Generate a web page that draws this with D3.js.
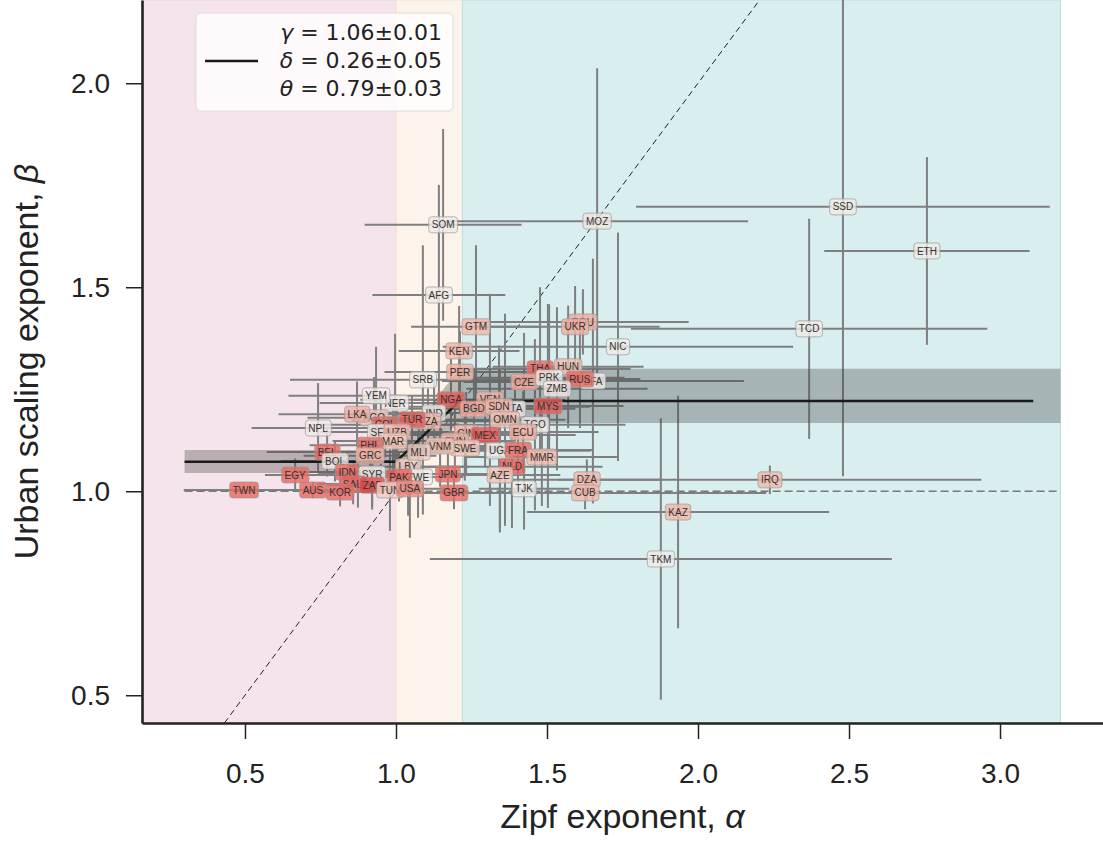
<!DOCTYPE html>
<html>
<head>
<meta charset="utf-8">
<script src="https://cdn.jsdelivr.net/npm/d3@7"></script>
<style>
	body { margin: 0; background: #fff; }
	svg { display: block; font-family: 'Liberation Sans', Arial, sans-serif; }
</style>
</head>
<body>
<div id="main-content"></div>
<script>
'use strict'

// countries, Zipf exponent (alpha), urban scaling exponent (beta), their errors and a 0..1 colour value
const codes = ['BFA', 'ITA', 'GIN', 'CHN', 'PRY', 'SSD', 'ETH', 'TCD', 'MOZ', 'SOM', 'AFG', 'GTM', 'ROU', 'UKR', 'NIC',
	'KEN', 'PER', 'SRB', 'HUN', 'THA', 'CZE', 'PRK', 'RUS', 'ZMB', 'NGA', 'VEN', 'BGD', 'SDN', 'MYS', 'OMN',
	'TGO', 'ECU', 'MEX', 'SWE', 'VNM', 'UGA', 'FRA', 'MMR', 'NLD', 'AZE', 'TJK', 'DZA', 'CUB', 'IRQ', 'KAZ',
	'TKM', 'JPN', 'GBR', 'LBY', 'ZWE', 'PAK', 'MLI', 'IND', 'TZA', 'TUR', 'NER', 'YEM', 'AGO', 'LKA', 'COL',
	'SEN', 'UZB', 'MAR', 'PHL', 'GRC', 'NPL', 'BEL', 'BOL', 'IDN', 'SYR', 'SAU', 'ZAF', 'TUN', 'USA', 'KOR',
	'AUS', 'EGY', 'TWN']
const alpha = [1.652, 1.394, 1.232, 1.195, 0.874, 2.480, 2.758, 2.368, 1.666, 1.156, 1.142, 1.265, 1.619, 1.593, 1.735,
	1.209, 1.212, 1.089, 1.570, 1.477, 1.424, 1.507, 1.609, 1.533, 1.182, 1.311, 1.258, 1.341, 1.503, 1.361,
	1.460, 1.421, 1.295, 1.228, 1.146, 1.344, 1.404, 1.483, 1.384, 1.344, 1.424, 1.632, 1.626, 2.238, 1.934,
	1.877, 1.172, 1.192, 1.040, 1.073, 1.010, 1.076, 1.126, 1.106, 1.053, 0.997, 0.934, 0.927, 0.871, 0.964,
	0.950, 1.003, 0.990, 0.914, 0.914, 0.742, 0.772, 0.798, 0.838, 0.921, 0.858, 0.921, 0.980, 1.046, 0.815,
	0.725, 0.666, 0.497]
const beta = [1.270, 1.202, 1.143, 1.123, 1.040, 1.697, 1.589, 1.398, 1.662, 1.653, 1.481, 1.403, 1.415, 1.403, 1.354,
	1.344, 1.292, 1.273, 1.305, 1.300, 1.268, 1.278, 1.275, 1.251, 1.224, 1.224, 1.202, 1.207, 1.209, 1.175,
	1.163, 1.145, 1.138, 1.106, 1.111, 1.099, 1.101, 1.084, 1.060, 1.040, 1.006, 1.028, 0.996, 1.028, 0.949,
	0.834, 1.042, 0.996, 1.060, 1.035, 1.035, 1.096, 1.192, 1.172, 1.175, 1.216, 1.234, 1.180, 1.189, 1.163,
	1.145, 1.145, 1.123, 1.113, 1.087, 1.155, 1.096, 1.074, 1.047, 1.042, 1.018, 1.015, 1.003, 1.006, 0.998,
	1.003, 1.040, 1.003]
const alphaErr = [0.50, 0.20, 0.20, 0.20, 0.15, 0.685, 0.34, 0.59, 0.50, 0.26, 0.22, 0.215, 0.35, 0.28, 0.58,
	0.20, 0.25, 0.44, 0.25, 0.30, 0.20, 0.25, 0.20, 0.30, 0.30, 0.25, 0.30, 0.30, 0.25, 0.20,
	0.30, 0.25, 0.30, 0.20, 0.25, 0.30, 0.25, 0.25, 0.30, 0.20, 0.15, 0.25, 0.60, 0.70, 0.50,
	0.765, 0.20, 0.20, 0.20, 0.15, 0.15, 0.20, 0.25, 0.25, 0.20, 0.25, 0.29, 0.22, 0.26, 0.25,
	0.20, 0.20, 0.20, 0.20, 0.22, 0.22, 0.20, 0.18, 0.15, 0.18, 0.12, 0.15, 0.10, 0.12, 0.10,
	0.12, 0.10, 0.20]
const betaErr = [0.30, 0.08, 0.10, 0.08, 0.08, 0.66, 0.23, 0.27, 0.375, 0.235, 0.27, 0.20, 0.08, 0.10, 0.28,
	0.11, 0.10, 0.33, 0.15, 0.20, 0.12, 0.18, 0.12, 0.20, 0.10, 0.26, 0.10, 0.15, 0.25, 0.26,
	0.21, 0.10, 0.08, 0.08, 0.10, 0.20, 0.10, 0.12, 0.15, 0.13, 0.10, 0.05, 0.04, 0.035, 0.285,
	0.345, 0.05, 0.04, 0.12, 0.10, 0.06, 0.10, 0.08, 0.08, 0.06, 0.17, 0.12, 0.10, 0.08, 0.08,
	0.10, 0.08, 0.08, 0.06, 0.07, 0.11, 0.06, 0.05, 0.05, 0.08, 0.05, 0.06, 0.10, 0.12, 0.035,
	0.02, 0.04, 0.01]
const shade = [0.05, 0.05, 0.5, 0.5, 0.7, 0.05, 0.05, 0.05, 0.1, 0.05, 0.05, 0.45, 0.5, 0.5, 0.05,
	0.45, 0.5, 0.05, 0.4, 0.85, 0.55, 0.05, 0.85, 0.1, 0.9, 0.5, 0.55, 0.45, 0.9, 0.4,
	0.05, 0.5, 0.95, 0.35, 0.4, 0.05, 0.85, 0.45, 0.9, 0.35, 0.05, 0.45, 0.45, 0.45, 0.45,
	0.05, 0.85, 0.85, 0.3, 0.05, 0.9, 0.3, 0.05, 0.45, 0.9, 0.05, 0.05, 0.35, 0.5, 0.85,
	0.05, 0.45, 0.35, 0.85, 0.45, 0.05, 0.85, 0.05, 0.85, 0.05, 0.9, 1.0, 0.3, 0.7, 0.85,
	0.85, 0.85, 0.85]

// regimes along alpha
const regimeEdges = [0, 1.0, 1.22, 3.2]

// piecewise fit and its band
const fitAlpha = [0.3, 1.0, 1.21, 3.11]
const fitBeta = [1.072, 1.072, 1.221, 1.221]
const bandAlpha = [0.3, 1.0, 1.21, 3.2]
const bandLow = [1.045, 1.045, 1.167, 1.167]
const bandHigh = [1.101, 1.101, 1.300, 1.300]
const refRange = [0.3, 3.2]

const xTicks = [0.5, 1.0, 1.5, 2.0, 2.5, 3.0]
const yTicks = [0.5, 1.0, 1.5, 2.0]
const legendSymbols = ['γ', 'δ', 'θ']
const legendValues = [' = 1.06±0.01', ' = 0.26±0.05', ' = 0.79±0.03']

const width = 1103,
		height = 841
const plot = {left: 142, right: 1103, top: 0, bottom: 723}

const svg = d3.select('#main-content').append('svg')
	.attr('width', width)
	.attr('height', height)

const x = d3.scaleLinear().domain([0.159, 3.341]).range([plot.left, plot.right])
const y = d3.scaleLinear().domain([0.432, 2.204]).range([plot.bottom, plot.top])

svg.append('clipPath').attr('id', 'clip')
	.append('rect')
	.attr('x', plot.left).attr('y', plot.top)
	.attr('width', plot.right - plot.left).attr('height', plot.bottom - plot.top)

const g = svg.append('g').attr('clip-path', 'url(#clip)')

// background regimes
const regimeFill = ['#f6e4ec', '#fcf3eb', '#d9eeef']
const regimeEdge = ['#f2cfdc', '#f6e0cf', '#b9dfdf']
g.selectAll('.regime')
	.data(d3.pairs(regimeEdges))
	.enter().append('rect')
	.attr('class', 'regime')
	.attr('x', d => x(d[0]))
	.attr('y', plot.top)
	.attr('width', d => x(d[1]) - x(d[0]))
	.attr('height', plot.bottom - plot.top)
	.attr('fill', (d, i) => regimeFill[i])
	.attr('stroke', (d, i) => regimeEdge[i])
	.attr('stroke-width', 1)

// beta = 1 reference and identity line
g.append('line')
	.attr('x1', x(refRange[0])).attr('x2', x(refRange[1]))
	.attr('y1', y(1)).attr('y2', y(1))
	.attr('stroke', '#777').attr('stroke-width', 1.5)
	.attr('stroke-dasharray', '8,4')

g.append('line')
	.attr('x1', x(0.432)).attr('y1', y(0.432))
	.attr('x2', x(2.204)).attr('y2', y(2.204))
	.attr('stroke', '#222').attr('stroke-width', 1)
	.attr('stroke-dasharray', '6,4')

const points = codes.map((c, i) => ({
	code: c, a: alpha[i], b: beta[i], ea: alphaErr[i], eb: betaErr[i], c: shade[i]
}))

// error bars
const bars = g.append('g').attr('class', 'errorbars')
	.attr('stroke', '#7f7f7f').attr('stroke-width', 2)
bars.selectAll('.xerr')
	.data(points)
	.enter().append('line')
	.attr('x1', d => x(d.a - d.ea)).attr('x2', d => x(d.a + d.ea))
	.attr('y1', d => y(d.b)).attr('y2', d => y(d.b))
bars.selectAll('.yerr')
	.data(points)
	.enter().append('line')
	.attr('x1', d => x(d.a)).attr('x2', d => x(d.a))
	.attr('y1', d => y(d.b - d.eb)).attr('y2', d => y(d.b + d.eb))

// fit band and line
const band = bandAlpha.map((a, i) => ({a: a, lo: bandLow[i], hi: bandHigh[i]}))
g.append('path')
	.datum(band)
	.attr('fill', '#404040')
	.attr('fill-opacity', 0.33)
	.attr('d', d3.area().x(d => x(d.a)).y0(d => y(d.lo)).y1(d => y(d.hi)))

g.append('path')
	.datum(fitAlpha.map((a, i) => [a, fitBeta[i]]))
	.attr('fill', 'none')
	.attr('stroke', '#1a1a1a')
	.attr('stroke-width', 2.5)
	.attr('d', d3.line().x(d => x(d[0])).y(d => y(d[1])))

// country labels
const color = d3.interpolateRgbBasis(['#efefef', '#f3b9a3', '#e14848'])
const label = g.append('g').attr('class', 'labels')
	.selectAll('.label')
	.data(points)
	.enter().append('g')
	.attr('class', 'label')
	.attr('transform', d => 'translate(' + x(d.a) + ',' + y(d.b) + ')')

const box = label.append('rect')
label.append('text')
	.attr('text-anchor', 'middle')
	.attr('dy', '0.36em')
	.attr('font-size', 10)
	.attr('fill', '#333')
	.text(d => d.code)

label.each(function() {
	const node = d3.select(this)
	const bb = node.select('text').node().getBBox()
	node.select('rect')
		.attr('x', bb.x - 3).attr('y', -8)
		.attr('width', bb.width + 6).attr('height', 16)
		.attr('rx', 3)
})
box.attr('fill', d => color(d.c))
	.attr('fill-opacity', 0.82)
	.attr('stroke', '#9a9a9a')
	.attr('stroke-opacity', 0.7)
	.attr('stroke-width', 1)

// axes
const xAxis = svg.append('g')
	.attr('transform', 'translate(0,' + plot.bottom + ')')
	.call(d3.axisBottom(x).tickValues(xTicks).tickFormat(d3.format('.1f'))
		.tickSize(16).tickPadding(24).tickSizeOuter(0))
const yAxis = svg.append('g')
	.attr('transform', 'translate(' + plot.left + ',0)')
	.call(d3.axisLeft(y).tickValues(yTicks).tickFormat(d3.format('.1f'))
		.tickSize(16).tickPadding(16).tickSizeOuter(0))

;[xAxis, yAxis].forEach(ax => {
	ax.select('.domain').attr('stroke', '#222').attr('stroke-width', 2.6)
	ax.selectAll('.tick line').attr('stroke', '#222').attr('stroke-width', 1.5)
	ax.selectAll('.tick text')
		.attr('fill', '#222')
		.style('font-size', '28px')
		.style('font-family', "'Liberation Sans', Arial, sans-serif")
})

svg.append('text')
	.attr('x', (plot.left + plot.right) / 2)
	.attr('y', 828)
	.attr('text-anchor', 'middle')
	.attr('font-size', 34)
	.attr('fill', '#222')
	.text('Zipf exponent, ')
	.append('tspan').attr('font-style', 'italic').text('α')

svg.append('text')
	.attr('transform', 'translate(38,' + (plot.top + plot.bottom) / 2 + ') rotate(-90)')
	.attr('text-anchor', 'middle')
	.attr('font-size', 34)
	.attr('fill', '#222')
	.text('Urban scaling exponent, ')
	.append('tspan').attr('font-style', 'italic').text('β')

// legend
const legend = svg.append('g').attr('class', 'legend')
legend.append('rect')
	.attr('x', 196).attr('y', 13)
	.attr('width', 257).attr('height', 98)
	.attr('rx', 5)
	.attr('fill', '#fff').attr('fill-opacity', 0.82)
	.attr('stroke', '#dcdcdc')
legend.append('line')
	.attr('x1', 205).attr('x2', 258)
	.attr('y1', 61).attr('y2', 61)
	.attr('stroke', '#1a1a1a').attr('stroke-width', 2.5)
legend.selectAll('.entry')
	.data(legendSymbols)
	.enter().append('text')
	.attr('class', 'entry')
	.attr('x', 442)
	.attr('y', (d, i) => 40 + i * 28)
	.attr('text-anchor', 'end')
	.attr('font-family', "'DejaVu Sans', sans-serif")
	.attr('font-size', 22)
	.attr('fill', '#222')
	.each(function(d, i) {
		const t = d3.select(this)
		t.append('tspan').attr('font-style', 'italic').text(d)
		t.append('tspan').text(legendValues[i])
	})
</script>
</body>
</html>
